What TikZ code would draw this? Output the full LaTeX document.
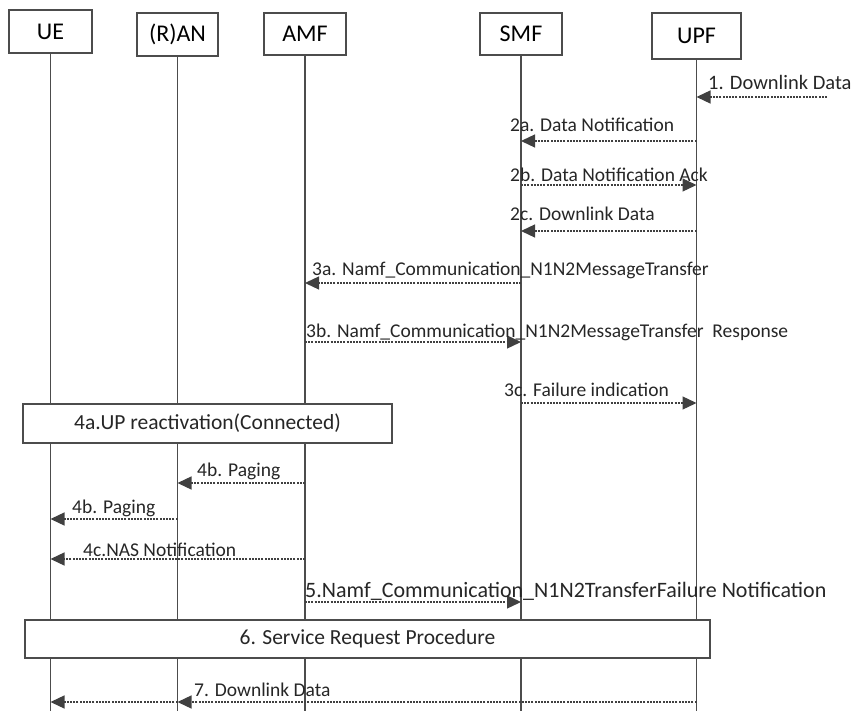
\documentclass[tikz,border=0pt]{standalone}
\usepackage{fontspec}
\setmainfont{Carlito}
\usetikzlibrary{arrows.meta}
\tikzset{
	entity/.style={draw=black!70, line width=1.4pt, fill=white, inner sep=0pt, font=\fontsize{24}{28}\selectfont},
	lifeline/.style={draw=black!70, line width=1.4pt},
	msg/.style={draw=black!75, line width=1.3pt, dash pattern=on 2pt off 1.2pt, -{Triangle[length=14pt,width=13pt]}},
	msglabel/.style={anchor=base west, inner sep=0pt, text=black!85, font=\fontsize{19.5}{23}\selectfont},
	procbox/.style={draw=black!70, line width=1.4pt, fill=white, inner sep=0pt, text=black!85, font=\fontsize{21.5}{25}\selectfont}
}

\begin{document}
\begin{tikzpicture}[x=1pt, y=-1pt]
			%%%%% START %%%%%
			\useasboundingbox (0,0) rectangle (856,711);
			\coordinate (bot) at (0,711);
			
			\node[entity, minimum width=83pt, minimum height=43pt] (ue) at (50.5,31.5) {UE};
			\node[entity, minimum width=81pt, minimum height=43pt] (ran) at (177.5,34.5) {(R)AN};
			\node[entity, minimum width=82pt, minimum height=42pt] (amf) at (305,34) {AMF};
			\node[entity, minimum width=82pt, minimum height=42pt] (smf) at (521,34) {SMF};
			\node[entity, minimum width=89pt, minimum height=46pt] (upf) at (696.5,36) {UPF};
			
			\draw[lifeline] (ue.south) -- (ue.south |- bot);
			\draw[lifeline] (ran.south) -- (ran.south |- bot);
			\draw[lifeline] (amf.south) -- (amf.south |- bot);
			\draw[lifeline] (smf.south) -- (smf.south |- bot);
			\draw[lifeline] (upf.south) -- (upf.south |- bot);
			
			%%%%% UPF / SMF %%%%%
			\coordinate (dn) at (827,97);
			\draw[msg] (dn) -- (upf |- dn);
			\node[msglabel, font=\fontsize{20.5}{24}\selectfont] (m1) at (708,90) {1. Downlink Data};
			
			\draw[msg] (upf |- 0,141) -- (smf |- 0,141);
			\node[msglabel] (m2a) at (510,132) {2a. Data Notification};
			
			\draw[msg] (smf |- 0,185) -- (upf |- 0,185);
			\node[msglabel] (m2b) at (510,182) {2b. Data Notification Ack};
			
			\draw[msg] (upf |- 0,231) -- (smf |- 0,231);
			\node[msglabel] (m2c) at (510,221) {2c. Downlink Data};
			
			%%%%% AMF / SMF %%%%%
			\draw[msg] (smf |- 0,283) -- (amf |- 0,283);
			\node[msglabel] (m3a) at (312,275) {3a. Namf\_Communication\_N1N2MessageTransfer};
			
			\draw[msg] (amf |- 0,342) -- (smf |- 0,342);
			\node[msglabel] (m3b) at (306,337) {3b. Namf\_Communication\_N1N2MessageTransfer\ \ Response};
			
			\draw[msg] (smf |- 0,403) -- (upf |- 0,403);
			\node[msglabel] (m3c) at (504,396) {3c. Failure indication};
			
			%%%%% paging %%%%%
			\node[procbox, minimum width=369pt, minimum height=39pt] (react) at (207.5,423.5) {4a.UP reactivation(Connected)};
			
			\draw[msg] (amf |- 0,483) -- (ran |- 0,483);
			\node[msglabel] (m4b) at (197,476) {4b. Paging};
			
			\draw[msg] (ran |- 0,519) -- (ue |- 0,519);
			\node[msglabel] (m4bb) at (72,513) {4b. Paging};
			
			\draw[msg] (amf |- 0,559) -- (ue |- 0,559);
			\node[msglabel] (m4c) at (83,556) {4c.NAS Notification};
			
			\draw[msg] (amf |- 0,602) -- (smf |- 0,602);
			\node[msglabel, font=\fontsize{22}{26}\selectfont] (m5) at (305,597) {5.Namf\_Communication\_N1N2TransferFailure Notification};
			
			%%%%% service request %%%%%
			\node[procbox, minimum width=685pt, minimum height=38pt] (sr) at (367.5,639) {6. Service Request Procedure};
			
			\draw[msg] (upf |- 0,702) -- (ran |- 0,702);
			\draw[msg] (ran |- 0,702) -- (ue |- 0,702);
			\node[msglabel] (m7) at (194,696) {7. Downlink Data};
			
			%%%%% END %%%%%
\end{tikzpicture}
\end{document}
